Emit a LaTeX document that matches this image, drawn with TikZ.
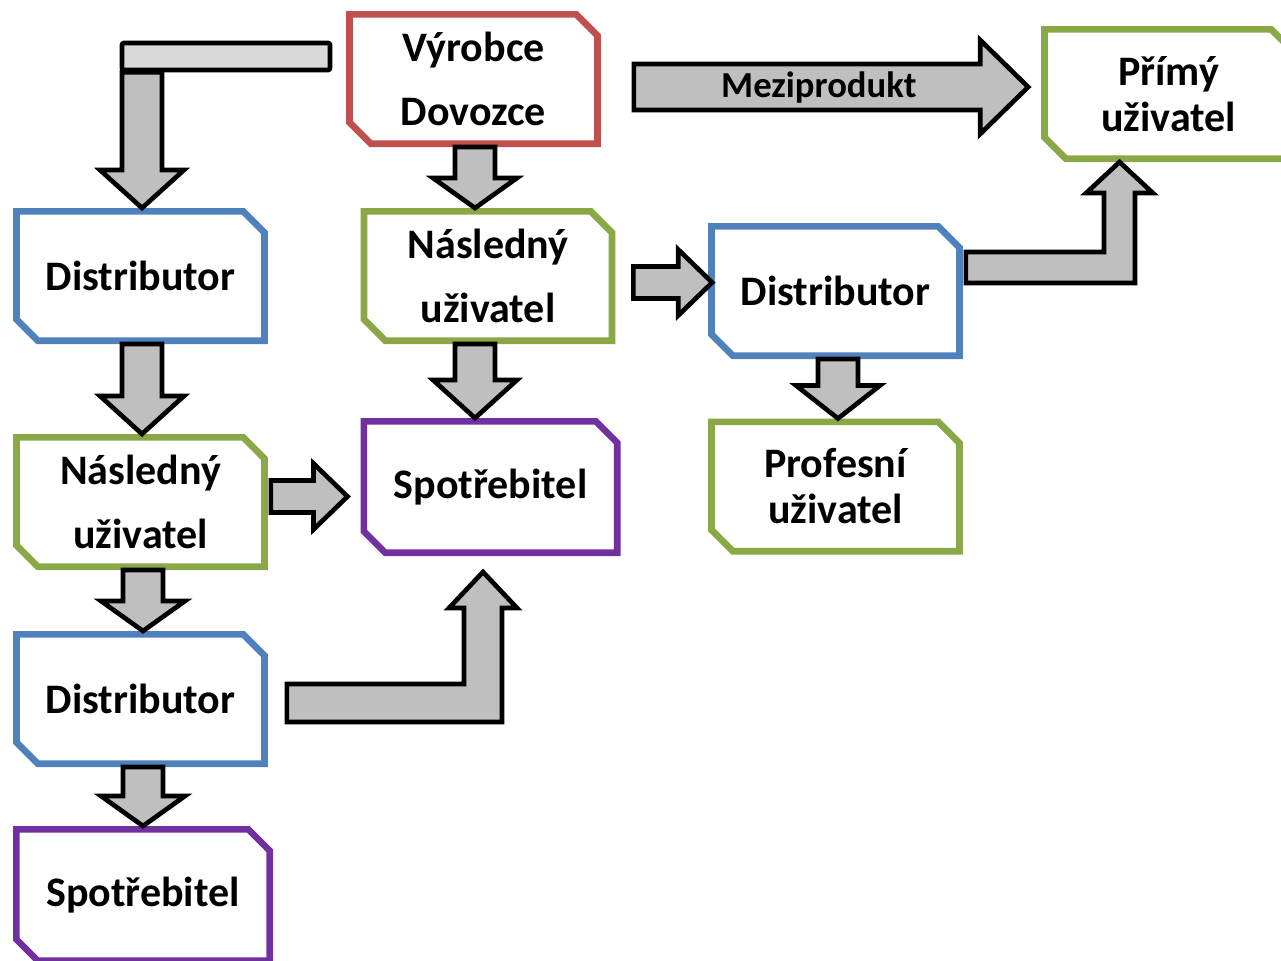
\documentclass[tikz,border=0pt]{standalone}
\usepackage{fontspec}
\setmainfont{Carlito}
\usetikzlibrary{calc,shapes.misc}

\definecolor{boxred}{HTML}{C0504D}
\definecolor{boxblue}{HTML}{4F81BD}
\definecolor{boxgreen}{HTML}{8AA845}
\definecolor{boxpurple}{HTML}{7030A0}
\definecolor{arrgray}{HTML}{BFBFBF}
\definecolor{bargray}{HTML}{D9D9D9}

% block arrows: start, tip (+ sizes)
\newcommand\arrdown[3][24pt]{%
  \draw[blockarr] let \p1=#2, \p2=#3 in
    (\x1-15pt,\y1)--(\x1+15pt,\y1)--(\x1+15pt,\y2+#1)--(\x1+31.5pt,\y2+#1)
    --(\x1,\y2)--(\x1-31.5pt,\y2+#1)--(\x1-15pt,\y2+#1)--cycle;}
\newcommand\arrright[5]{%
  \draw[blockarr] let \p1=#1, \p2=#2 in
    (\x1,\y1+#3)--(\x2-#5,\y1+#3)--(\x2-#5,\y1+#4)--(\x2,\y1)
    --(\x2-#5,\y1-#4)--(\x2-#5,\y1-#3)--(\x1,\y1-#3)--cycle;}
\newcommand\arrbent[5]{%
  \draw[blockarr] let \p1=#1, \p2=#2 in
    (\x1,\y1-#3)--(\x2+#3,\y1-#3)--(\x2+#3,\y2-#5)--(\x2+#4,\y2-#5)--(\x2,\y2)
    --(\x2-#4,\y2-#5)--(\x2-#3,\y2-#5)--(\x2-#3,\y1+#3)--(\x1,\y1+#3)--cycle;}

\begin{document}
\begin{tikzpicture}[x=0.75pt,y=-0.75pt,
    box/.style={chamfered rectangle,chamfered rectangle corners={north east,south west},
      chamfered rectangle xsep=8pt,chamfered rectangle ysep=8pt,
      line width=5pt,fill=white,inner sep=0pt,minimum width=186pt,minimum height=97pt,
      align=center,font=\fontsize{31.5}{48}\selectfont\bfseries},
    tight/.style={font=\fontsize{31.5}{34.5}\selectfont\bfseries},
    wide/.style={minimum width=190pt,minimum height=98.5pt},
    blockarr/.style={draw=black,line width=3.5pt,fill=arrgray,line join=miter},
    barbox/.style={draw=black,line width=3.5pt,fill=bargray,rounded corners=1.5pt,
      inner sep=0pt,minimum width=156pt,minimum height=20.25pt},
    arrtext/.style={font=\fontsize{27.5}{30}\selectfont\bfseries,inner sep=0pt}]
  \useasboundingbox (0,0) rectangle (1281,960);
  \clip (0,0) rectangle (1281,960);
  \node[box,draw=boxred] (vyrobce) at (473.5,79) {Výrobce\\Dovozce};
  \node[box,draw=boxblue] (dist1) at (140.5,276) {Distributor};
  \node[box,draw=boxgreen] (nasl1) at (488,276) {Následný\\uživatel};
  \node[box,tight,draw=boxgreen] (primy) at (1168.5,94) {Přímý\\uživatel};
  \node[box,draw=boxblue] (dist2) at (835.5,291) {Distributor};
  \node[box,tight,draw=boxgreen] (prof) at (835.5,486.5) {Profesní\\uživatel};
  \node[box,draw=boxgreen] (nasl2) at (140.5,502) {Následný\\uživatel};
  \node[box,wide,draw=boxpurple] (spot1) at (490.5,487) {Spotřebitel};
  \node[box,draw=boxblue] (dist3) at (140.5,699) {Distributor};
  \node[box,wide,draw=boxpurple] (spot2) at (143,895) {Spotřebitel};
  \node[barbox] (bar) at (226,56.5) {};

  \arrdown[28.5pt]{($(bar.south -| dist1.north)+(1.5,0)$)}{(dist1.north)}
  \arrdown[22.5pt]{($(vyrobce.south)+(1.5,0)$)}{(nasl1.north)}
  \arrdown[28.5pt]{($(nasl1.south)+(-13,0)$)}{(spot1.north)}
  \arrdown[28.5pt]{($(dist1.south)+(1.5,0)$)}{(nasl2.north)}
  \arrdown[24.75pt]{($(dist2.south)+(2.5,0)$)}{(prof.north)}
  \arrdown[22.5pt]{($(nasl2.south)+(2.5,0)$)}{(dist3.north)}
  \arrdown[22.5pt]{($(dist3.south)+(2.5,0)$)}{(spot2.north)}
  \arrright{($(nasl1.east)+(18,6.5)$)}{($(dist2.west)+(4,0)$)}{12pt}{24.75pt}{25.5pt}
  \arrright{($(nasl2.east)+(3,-5.5)$)}{($(spot1.west)+(-13,0)$)}{12pt}{24.75pt}{25.5pt}
  \arrright{($(vyrobce.east)+(33,8)$)}{($(primy.west)+(-13,0)$)}{17.25pt}{35.25pt}{36pt}
  \node[arrtext] (mezi) at ($(vyrobce.east)+(218,9)$) {Meziprodukt};
  \arrbent{($(dist2.east)+(3,-23.5)$)}{($(primy.south)+(-49,0)$)}{11.6pt}{25pt}{23.25pt}
  \arrbent{($(dist3.east)+(19,4)$)}{($(spot1.south)+(-7.5,16)$)}{14.25pt}{25.5pt}{27pt}
\end{tikzpicture}
\end{document}
